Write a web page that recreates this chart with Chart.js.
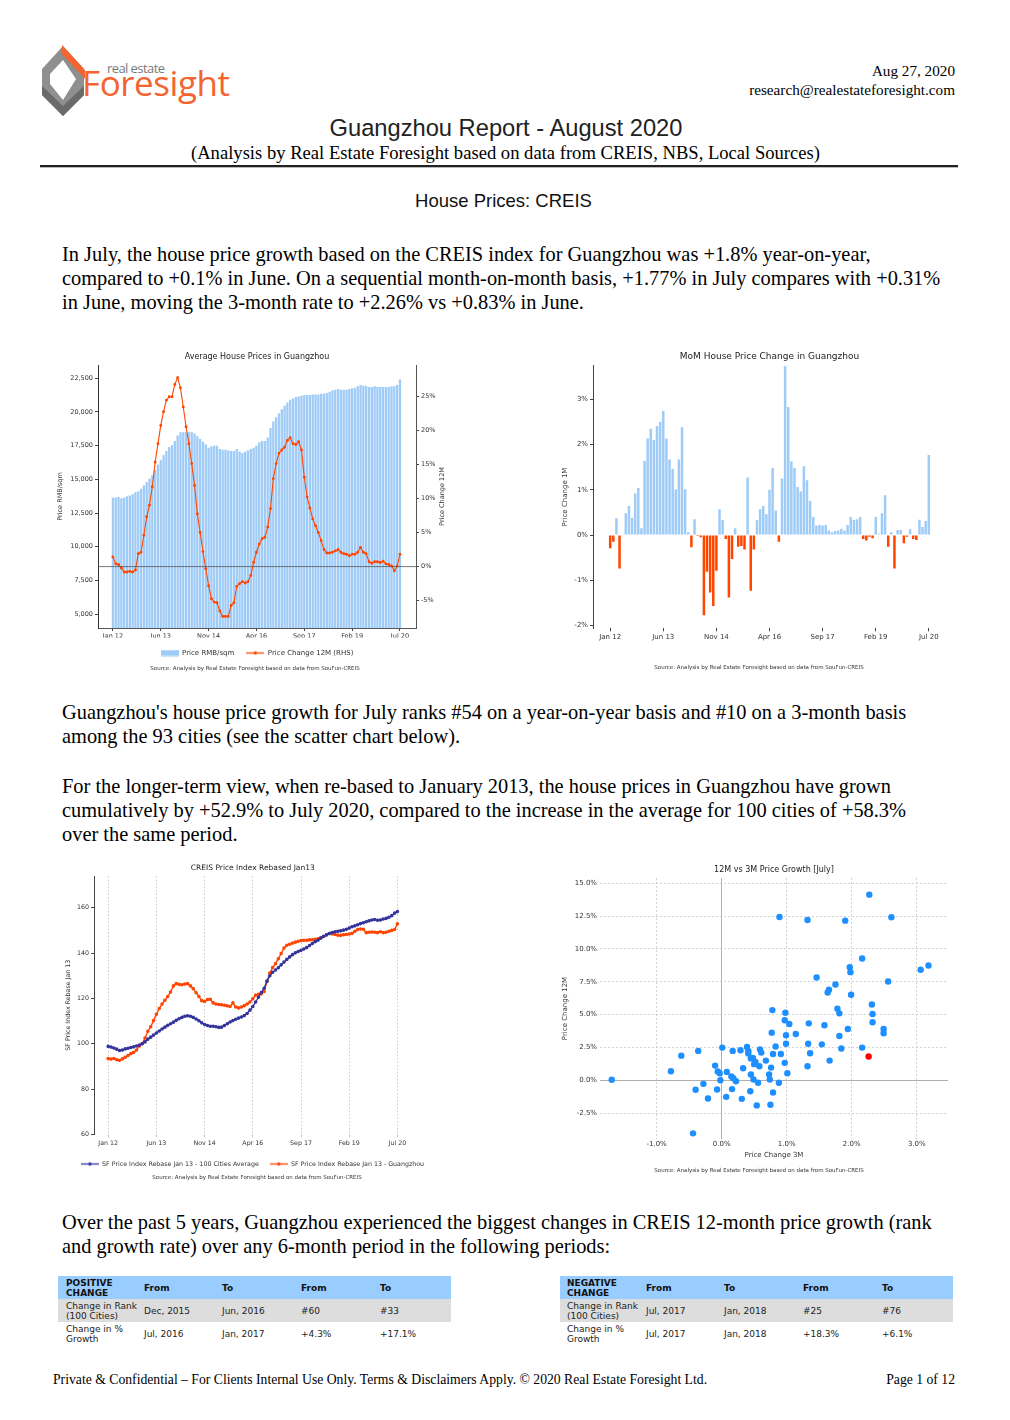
<!DOCTYPE html>
<html>
<head>
<meta charset="utf-8">
<title>Guangzhou Report - August 2020</title>
<script src="https://cdn.jsdelivr.net/npm/chart.js@4.4.1/dist/chart.umd.min.js"></script>
<style>
  body { margin: 0; background: #fff; }
  #page { position: relative; width: 1010px; height: 1420px; overflow: hidden; font-family: 'Liberation Serif', 'Times New Roman', serif; color: #000; }
  .abs { position: absolute; white-space: nowrap; }
  .para { left: 62px; font-size: 20.4px; line-height: 24px; }
  .box { position: absolute; }
  table.rank { position: absolute; border-collapse: collapse; font-family: 'DejaVu Sans', sans-serif; font-size: 9px; line-height: 10px; color: #222; table-layout: fixed; }
  table.rank td { padding: 0 0 0 8px; vertical-align: middle; white-space: nowrap; overflow: visible; }
  table.rank tr.head td { background: #99ccff; font-weight: bold; height: 23px; color: #111; }
  table.rank tr.r1 td { background: #dddddd; height: 23px; }
  table.rank tr.r2 td { background: #fff; height: 24px; }
</style>
</head>
<body>
<div id="page">

  <svg class="box" style="left:0;top:0" width="260" height="125" viewBox="0 0 260 125">
    <polygon points="63,46 84,69 84,95 63,116 42,95 42,69" fill="#8f8f8f"/>
    <polygon points="42,86 63,106 84,86 84,95 63,116 42,95" fill="#6a6a6a"/>
    <polygon points="63,60 76,79 63,100 50,84 50,74" fill="#fff"/>
    <polygon points="62,45 85,70 85,79 62,54" fill="#f26531"/>
    <text x="107" y="73" font-family="Open Sans, DejaVu Sans, sans-serif" font-size="13" fill="#7a7a7a" textLength="58">real estate</text>
    <text x="82" y="96" font-family="Open Sans, DejaVu Sans, sans-serif" font-size="35" fill="#f26531" textLength="148">Foresight</text>
  </svg>

  <div class="abs" style="right:55px;top:61px;font-size:15.2px;text-align:right;line-height:19px">Aug 27, 2020<br>research@realestateforesight.com</div>

  <div class="abs" style="left:0;width:1012px;top:115px;text-align:center;font-family:'Liberation Sans',Arial,sans-serif;font-size:23.7px;color:#222">Guangzhou Report - August 2020</div>
  <div class="abs" style="left:0;width:1011px;top:142px;text-align:center;font-size:18.6px">(Analysis by Real Estate Foresight based on data from CREIS, NBS, Local Sources)</div>
  <div class="box" style="left:40px;top:165px;width:918px;height:1.5px;background:#222"></div>
  <div class="box" style="left:40px;top:166.5px;width:918px;height:1px;background:#bbb"></div>

  <div class="abs" style="left:0;width:1007px;top:190px;text-align:center;font-family:'Liberation Sans',Arial,sans-serif;font-size:18.5px;color:#111">House Prices: CREIS</div>

  <div class="abs para" style="top:242px">In July, the house price growth based on the CREIS index for Guangzhou was +1.8% year-on-year,<br>compared to +0.1% in June. On a sequential month-on-month basis, +1.77% in July compares with +0.31%<br>in June, moving the 3-month rate to +2.26% vs +0.83% in June.</div>

  <div class="box" style="left:55px;top:348px"><canvas id="priceChart" width="395" height="328"></canvas></div>
  <div class="box" style="left:555px;top:348px"><canvas id="momChart" width="400" height="328"></canvas></div>

  <div class="abs para" style="top:700px">Guangzhou's house price growth for July ranks #54 on a year-on-year basis and #10 on a 3-month basis<br>among the 93 cities (see the scatter chart below).</div>

  <div class="abs para" style="top:774px">For the longer-term view, when re-based to January 2013, the house prices in Guangzhou have grown<br>cumulatively by +52.9% to July 2020, compared to the increase in the average for 100 cities of +58.3%<br>over the same period.</div>

  <div class="box" style="left:45px;top:860px"><canvas id="indexChart" width="415" height="326"></canvas></div>
  <div class="box" style="left:555px;top:860px"><canvas id="scatterChart" width="400" height="322"></canvas></div>

  <div class="abs para" style="top:1210px">Over the past 5 years, Guangzhou experienced the biggest changes in CREIS 12-month price growth (rank<br>and growth rate) over any 6-month period in the following periods:</div>

  <table class="rank" style="left:58px;top:1276px;width:393px">
    <colgroup><col style="width:78px"><col style="width:78px"><col style="width:79px"><col style="width:79px"><col style="width:79px"></colgroup>
    <tr class="head"><td>POSITIVE<br>CHANGE</td><td>From</td><td>To</td><td>From</td><td>To</td></tr>
    <tr class="r1"><td>Change in Rank<br>(100 Cities)</td><td>Dec, 2015</td><td>Jun, 2016</td><td>#60</td><td>#33</td></tr>
    <tr class="r2"><td>Change in %<br>Growth</td><td>Jul, 2016</td><td>Jan, 2017</td><td>+4.3%</td><td>+17.1%</td></tr>
  </table>

  <table class="rank" style="left:560px;top:1276px;width:393px">
    <colgroup><col style="width:79px"><col style="width:78px"><col style="width:79px"><col style="width:79px"><col style="width:78px"></colgroup>
    <tr class="head"><td style="padding-left:7px">NEGATIVE<br>CHANGE</td><td style="padding-left:7px">From</td><td style="padding-left:7px">To</td><td style="padding-left:7px">From</td><td style="padding-left:7px">To</td></tr>
    <tr class="r1"><td style="padding-left:7px">Change in Rank<br>(100 Cities)</td><td style="padding-left:7px">Jul, 2017</td><td style="padding-left:7px">Jan, 2018</td><td style="padding-left:7px">#25</td><td style="padding-left:7px">#76</td></tr>
    <tr class="r2"><td style="padding-left:7px">Change in %<br>Growth</td><td style="padding-left:7px">Jul, 2017</td><td style="padding-left:7px">Jan, 2018</td><td style="padding-left:7px">+18.3%</td><td style="padding-left:7px">+6.1%</td></tr>
  </table>

  <div class="abs" style="left:53px;top:1372px;font-size:13.7px">Private &amp; Confidential – For Clients Internal Use Only. Terms &amp; Disclaimers Apply. © 2020 Real Estate Foresight Ltd.</div>
  <div class="abs" style="right:55px;top:1372px;font-size:13.7px">Page 1 of 12</div>
</div>

<script>
// month categories Jan 12 .. Jul 20
var monthNames = ['Jan','Feb','Mar','Apr','May','Jun','Jul','Aug','Sep','Oct','Nov','Dec'];
var months = [];
for (var i = 0; i < 103; i++) months.push(monthNames[i % 12] + ' ' + (12 + Math.floor(i / 12)));
var tickMonths = ['Jan 12', 'Jun 13', 'Nov 14', 'Apr 16', 'Sep 17', 'Feb 19', 'Jul 20'];

// Average house price RMB/sqm
var avgPrice = [13650,13650,13700,13600,13650,13750,13800,13900,14050,14100,
  14300,14550,14800,15050,15300,15700,16100,16450,16800,17100,
  17400,17550,17850,18250,18500,18500,18500,18500,18500,18400,
  18200,18000,17800,17600,17350,17450,17500,17500,17250,17200,
  17200,17150,17100,17100,17250,17050,16950,17050,17150,17250,
  17350,17500,17750,17850,17850,18100,18800,19300,19600,19900,
  20200,20450,20700,20900,21000,21100,21150,21200,21250,21250,
  21250,21300,21300,21300,21350,21350,21400,21500,21600,21650,
  21700,21650,21650,21650,21700,21750,21800,21900,22000,21950,
  21950,21850,21850,21900,21850,21850,21850,21850,21850,21900,
  21900,22000,22400];

// 12-month price change %
var change12M = [1.4,0.4,0.3,-0.2,-0.8,-0.8,-0.7,-0.8,-0.5,1.9,
  2.1,4.6,7.3,9.0,11.7,15.3,18.0,20.7,22.7,24.4,
  24.9,24.9,26.7,27.7,26.2,23.4,20.5,18.0,15.1,11.9,
  7.7,5.0,2.2,-0.3,-2.8,-4.7,-5.2,-5.3,-6.5,-7.3,
  -7.3,-7.3,-5.7,-5.3,-2.9,-2.5,-2.2,-2.4,-2.2,-1.3,
  0.6,2.1,3.3,4.1,4.3,5.8,8.5,12.9,15.1,16.6,
  17.1,17.5,18.5,18.9,18.0,17.9,18.3,17.1,13.1,10.2,
  8.6,7.0,6.0,5.0,3.8,2.5,2.0,2.0,2.1,2.3,
  2.5,2.1,1.9,1.8,1.6,1.8,1.8,2.1,2.8,2.1,
  1.9,0.7,0.5,0.7,0.7,0.6,0.8,0.4,0.3,0.1,
  -0.6,0.1,1.8];

// month-on-month price change %
var change1M = [-0.29,-0.15,0.37,-0.74,0.02,0.48,0.64,0.38,0.92,1.04,
  0.15,1.64,2.13,2.35,2.10,2.41,2.50,2.74,2.13,1.67,
  1.46,1.01,1.67,2.38,1.01,0.06,-0.27,0.35,-0.02,-0.05,
  -1.77,-0.81,-1.27,-1.57,-0.79,0.57,0.33,-0.09,-1.38,-0.53,
  0.15,-0.26,-0.24,-0.32,1.27,-1.23,-0.32,0.33,0.57,0.64,
  0.46,1.00,1.48,0.54,-0.15,1.25,3.73,2.83,1.63,1.48,
  1.06,0.96,1.52,1.21,0.75,0.40,0.21,0.22,0.21,0.22,
  0.10,0.06,0.09,0.10,0.14,0.10,0.22,0.40,0.33,0.35,
  0.40,-0.09,-0.12,-0.04,-0.07,0.40,0.03,0.48,0.88,-0.26,
  0.06,-0.74,0.11,0.11,-0.18,-0.04,0.13,-0.09,-0.11,0.34,
  0.18,0.31,1.77];

// price index rebased Jan 13 = 100
var index100Cities = [98.8,98.5,98.1,97.6,97.0,97.2,97.7,98.0,98.3,98.6,
  99.0,99.4,100.0,100.8,102.0,102.9,103.8,104.7,105.6,106.5,
  107.3,108.1,108.8,109.5,110.3,111.0,111.6,112.1,112.3,112.1,
  111.6,110.9,110.1,109.2,108.5,108.0,107.7,107.7,107.5,107.2,
  107.3,108.0,108.8,109.6,110.2,110.8,111.3,111.8,112.4,113.3,
  114.8,116.4,118.4,120.5,122.6,124.5,127.6,130.0,131.5,132.5,
  133.5,134.8,136.0,137.2,138.3,139.3,140.1,140.7,141.2,141.8,
  142.4,143.3,144.2,145.0,145.7,146.6,147.4,148.0,148.6,149.1,
  149.4,149.6,149.8,150.1,150.5,151.0,151.6,152.0,152.5,153.0,
  153.4,153.8,154.2,154.6,154.8,154.5,154.6,155.0,155.3,155.8,
  156.5,157.6,158.3];
var indexGuangzhou = [93.4,93.2,93.5,92.9,92.7,93.3,94.0,94.8,95.6,96.2,
  97.2,99.0,100.0,102.5,105.5,107.5,110.2,113.0,115.5,117.5,
  119.2,120.8,122.8,125.5,126.5,126.2,126.0,126.3,126.5,125.5,
  124.3,122.5,120.8,119.0,118.6,119.5,119.6,118.0,117.5,117.3,
  117.2,117.0,116.7,116.4,118.0,116.2,115.8,116.2,116.8,117.5,
  118.4,119.8,121.5,121.8,122.0,123.0,127.5,131.2,133.6,135.3,
  137.5,139.8,142.2,143.4,143.9,144.4,144.8,145.2,145.5,145.6,
  145.6,145.8,145.9,146.1,146.3,146.8,147.3,148.1,148.6,148.4,
  148.2,147.9,147.8,148.1,148.2,148.4,148.7,149.6,150.4,150.6,
  150.5,149.0,149.2,149.3,149.2,149.0,149.4,149.0,149.2,149.6,
  150.0,150.4,152.9];

// scatter: other cities, 3M vs 12M change %
var city3M = [-1.69,-0.78,-0.62,-0.36,-0.40,-0.28,-0.21,-0.44,-0.10,-0.07,
  -0.06,-0.03,-0.02,0.01,0.07,0.08,0.15,0.16,0.17,0.18,
  0.22,0.29,0.31,0.33,0.39,0.41,0.41,0.45,0.45,0.44,
  0.48,0.50,0.49,0.52,0.54,0.56,0.58,0.59,0.61,0.68,
  0.73,0.74,0.76,0.75,0.77,0.78,0.79,0.79,0.83,0.88,
  0.89,0.91,0.97,0.97,0.98,0.99,0.99,1.01,1.04,1.14,
  1.32,1.32,1.33,1.34,1.36,1.46,1.54,1.58,1.63,1.65,
  1.66,1.75,1.78,1.81,1.81,1.84,1.90,1.94,1.97,1.98,
  1.99,2.16,2.16,2.27,2.31,2.32,2.32,2.49,2.49,2.56,
  2.61,3.06,3.18];
var city12M = [0.03,0.68,1.87,2.23,-0.73,-0.28,-1.39,-4.05,1.11,-0.71,
  0.66,0.53,0.00,2.48,-1.27,0.63,0.28,-0.68,2.23,0.15,
  -0.08,2.28,-1.42,0.91,2.53,2.23,2.03,1.65,0.43,-0.84,
  1.70,1.22,0.05,1.39,-1.92,-0.20,1.06,2.35,2.10,1.49,
  0.43,0.05,0.96,-1.87,3.62,5.34,-0.94,2.00,2.56,-0.20,
  12.43,2.00,1.32,4.56,5.14,2.78,3.42,0.53,4.28,3.52,
  1.06,12.20,2.78,4.33,2.05,7.82,2.73,4.18,6.68,6.89,
  1.49,7.29,5.44,5.09,3.37,2.41,12.15,3.90,8.61,8.23,
  6.51,9.27,2.48,14.13,5.77,5.04,4.41,3.90,3.57,7.52,
  12.41,8.41,8.73];
var gz3M = [2.26];
var gz12M = [1.8];

// tick labels
var priceTicks = [5000, 7500, 10000, 12500, 15000, 17500, 20000, 22500];
var change12MTicks = [-5, 0, 5, 10, 15, 20, 25];
var change1MTicks = [-2, -1, 0, 1, 2, 3];
var indexTicks = [60, 80, 100, 120, 140, 160];
var scatterXTicks = [-1, 0, 1, 2, 3];
var scatterYTicks = [-2.5, 0, 2.5, 5, 7.5, 10, 12.5, 15];

var sourceText = 'Source: Analysis by Real Estate Foresight based on data from SouFun-CREIS';

Chart.defaults.font.family = "'DejaVu Sans', sans-serif";
Chart.defaults.color = '#333';
Chart.defaults.animation = false;
Chart.defaults.events = [];
Chart.defaults.plugins.tooltip.enabled = false;

var blue = '#9fcbf7';
var orange = '#ff4500';
var navy = '#34349c';
var dot = '#1e8fff';

function toPoints(arr) {
    return arr.map(function(v, i) { return { x: i, y: v }; });
}
function monthTicks(scale) {
    scale.ticks = tickMonths.map(function(m) { return { value: months.indexOf(m) }; });
}
function fixedTicks(values) {
    return function(scale) { scale.ticks = values.map(function(v) { return { value: v }; }); };
}
function legendIcon(color, isLine) {
    var c = document.createElement('canvas');
    c.width = 18; c.height = 7;
    var g = c.getContext('2d');
    if (isLine) {
        g.strokeStyle = color; g.lineWidth = 1.3;
        g.beginPath(); g.moveTo(0, 3.5); g.lineTo(18, 3.5); g.stroke();
        g.fillStyle = color;
        g.beginPath(); g.arc(9, 3.5, 1.7, 0, Math.PI * 2); g.fill();
    } else {
        g.fillStyle = color; g.fillRect(0, 0.5, 18, 6);
    }
    return c;
}
function legendWithIcons(icons) {
    return function(chart) {
        var items = Chart.defaults.plugins.legend.labels.generateLabels(chart);
        items.forEach(function(it) { it.pointStyle = icons[it.datasetIndex]; });
        return items.sort(function(a, b) { return a.datasetIndex - b.datasetIndex; });
    };
}

// small note under each chart
var sourceNote = {
    id: 'sourceNote',
    afterDraw: function(chart, args, opts) {
        var ctx = chart.ctx;
        ctx.save();
        ctx.font = "5.5px 'DejaVu Sans', sans-serif";
        ctx.fillStyle = '#333';
        ctx.textAlign = 'center';
        ctx.textBaseline = 'middle';
        ctx.fillText(sourceText, opts.x, opts.y);
        ctx.restore();
    }
};

// horizontal 0% line and rotated right-axis title
var priceExtras = {
    id: 'priceExtras',
    afterDatasetsDraw: function(chart) {
        var ctx = chart.ctx, area = chart.chartArea;
        var y0 = chart.scales.y1.getPixelForValue(0);
        ctx.save();
        ctx.strokeStyle = '#555';
        ctx.lineWidth = 0.8;
        ctx.beginPath(); ctx.moveTo(area.left, y0); ctx.lineTo(area.right, y0); ctx.stroke();
        ctx.translate(area.right + 26, (area.top + area.bottom) / 2);
        ctx.rotate(-Math.PI / 2);
        ctx.font = "6.5px 'DejaVu Sans', sans-serif";
        ctx.fillStyle = '#333';
        ctx.textAlign = 'center';
        ctx.textBaseline = 'middle';
        ctx.fillText('Price Change 12M', 0, 0);
        ctx.restore();
    }
};

// ---- Average house prices (bars) + 12M change (line, RHS) ----
new Chart(document.getElementById('priceChart'), {
    data: {
        datasets: [
            {
                type: 'bar',
                label: 'Price RMB/sqm',
                data: toPoints(avgPrice),
                yAxisID: 'y',
                backgroundColor: blue,
                barPercentage: 0.82,
                categoryPercentage: 1,
                order: 1
            },
            {
                type: 'line',
                label: 'Price Change 12M (RHS)',
                data: toPoints(change12M),
                yAxisID: 'y1',
                borderColor: orange,
                backgroundColor: orange,
                borderWidth: 1.1,
                pointRadius: 0.9,
                tension: 0,
                order: 0
            }
        ]
    },
    options: {
        responsive: false,
        layout: { padding: { bottom: 9.5 } },
        plugins: {
            title: { display: true, text: 'Average House Prices in Guangzhou', fullSize: false, color: '#222', font: { size: 8, weight: 'normal' }, padding: { top: 4, bottom: 3.4 } },
            legend: {
                position: 'bottom', fullSize: false,
                labels: { usePointStyle: true, pointStyleWidth: 18, boxHeight: 7, padding: 12, color: '#333', font: { size: 7 }, generateLabels: legendWithIcons([legendIcon(blue, false), legendIcon(orange, true)]) }
            },
            sourceNote: { x: 200, y: 321 }
        },
        scales: {
            x: {
                type: 'linear', min: -5.3, max: 107.7, offset: false,
                afterBuildTicks: monthTicks,
                afterFit: function(s) { s.height = 9.5; },
                ticks: { callback: function(v) { return months[v]; }, font: { size: 6.5 }, padding: 1.5, maxRotation: 0, autoSkip: false },
                grid: { drawOnChartArea: false, tickLength: 3, color: '#444', offset: false },
                border: { color: '#555' }
            },
            y: {
                position: 'left', min: 3980, max: 23480,
                afterBuildTicks: fixedTicks(priceTicks),
                afterFit: function(s) { s.width = 43; },
                ticks: { callback: function(v) { return v.toLocaleString('en-US'); }, font: { size: 6.5 }, padding: 2 },
                grid: { drawOnChartArea: false, tickLength: 3, color: '#444' },
                border: { color: '#333' },
                title: { display: true, text: 'Price RMB/sqm', font: { size: 6.5 }, padding: { top: 1, bottom: 0 } }
            },
            y1: {
                position: 'right', min: -9.0, max: 29.55,
                afterBuildTicks: fixedTicks(change12MTicks),
                afterFit: function(s) { s.width = 34; },
                ticks: { callback: function(v) { return v + '%'; }, font: { size: 6.5 }, padding: 2 },
                grid: { drawOnChartArea: false, tickLength: 3, color: '#444' },
                border: { color: '#555' }
            }
        }
    },
    plugins: [priceExtras, sourceNote]
});

// ---- MoM change bars ----
new Chart(document.getElementById('momChart'), {
    type: 'bar',
    data: {
        datasets: [{
            label: 'Price Change 1M',
            data: toPoints(change1M),
            backgroundColor: function(ctx) { return ctx.parsed && ctx.parsed.y < 0 ? orange : blue; },
            barPercentage: 0.8,
            categoryPercentage: 1
        }]
    },
    options: {
        responsive: false,
        layout: { padding: { right: 9, bottom: 33.7 } },
        plugins: {
            title: { display: true, text: 'MoM House Price Change in Guangzhou', fullSize: false, color: '#222', font: { size: 9, weight: 'normal' }, padding: { top: 3.5, bottom: 3.4 } },
            legend: { display: false },
            sourceNote: { x: 204, y: 320 }
        },
        scales: {
            x: {
                type: 'linear', min: -5.5, max: 107.5, offset: false,
                afterBuildTicks: monthTicks,
                afterFit: function(s) { s.height = 14; },
                ticks: { callback: function(v) { return months[v]; }, font: { size: 7 }, padding: 1.5, maxRotation: 0, autoSkip: false },
                grid: { drawOnChartArea: false, tickLength: 3, color: '#444', offset: false },
                border: { display: false }
            },
            y: {
                min: -2.06, max: 3.74,
                afterBuildTicks: fixedTicks(change1MTicks),
                afterFit: function(s) { s.width = 38; },
                ticks: { callback: function(v) { return v + '%'; }, font: { size: 7 }, padding: 2 },
                grid: { drawOnChartArea: false, tickLength: 3, color: '#444' },
                border: { color: '#444' },
                title: { display: true, text: 'Price Change 1M', font: { size: 7 }, padding: { top: 6, bottom: 0 } }
            }
        }
    },
    plugins: [sourceNote]
});

// ---- Rebased price index lines ----
new Chart(document.getElementById('indexChart'), {
    type: 'line',
    data: {
        datasets: [
            {
                label: 'SF Price Index Rebase Jan 13 - 100 Cities Average',
                data: toPoints(index100Cities),
                borderColor: navy, backgroundColor: navy,
                borderWidth: 1.4, pointRadius: 1.1, tension: 0
            },
            {
                label: 'SF Price Index Rebase Jan 13 - Guangzhou',
                data: toPoints(indexGuangzhou),
                borderColor: orange, backgroundColor: orange,
                borderWidth: 1.4, pointRadius: 1.1, tension: 0
            }
        ]
    },
    options: {
        responsive: false,
        layout: { padding: { bottom: 8.85 } },
        plugins: {
            title: { display: true, text: 'CREIS Price Index Rebased Jan13', fullSize: false, color: '#222', font: { size: 7.5, weight: 'normal' }, padding: { top: 4, bottom: 3 } },
            legend: {
                position: 'bottom',
                labels: { usePointStyle: true, pointStyleWidth: 18, boxHeight: 7, padding: 11, color: '#333', font: { size: 6.3 }, generateLabels: legendWithIcons([legendIcon(navy, true), legendIcon(orange, true)]) }
            },
            sourceNote: { x: 212, y: 318 }
        },
        scales: {
            x: {
                type: 'linear', min: -5, max: 107,
                afterBuildTicks: monthTicks,
                afterFit: function(s) { s.height = 15.5; },
                ticks: { callback: function(v) { return months[v]; }, font: { size: 6.3 }, padding: 2, maxRotation: 0, autoSkip: false },
                grid: { color: '#bdbdbd', lineWidth: 0.8, tickLength: 3 },
                border: { display: false, dash: [1.5, 2] }
            },
            y: {
                min: 60, max: 174,
                afterBuildTicks: fixedTicks(indexTicks),
                afterFit: function(s) { s.width = 49; },
                ticks: { font: { size: 6.3 }, padding: 2 },
                grid: { drawOnChartArea: false, tickLength: 3, color: '#444' },
                border: { color: '#444' },
                title: { display: true, text: 'SF Price Index Rebase Jan 13', font: { size: 6.3 }, padding: { top: 20, bottom: 0 } }
            },
            pad: {
                type: 'linear', position: 'right',
                afterFit: function(s) { s.width = 48.4; },
                ticks: { display: false },
                grid: { display: false },
                border: { display: false }
            }
        }
    },
    plugins: [sourceNote]
});

// ---- 12M vs 3M scatter ----
function zeroSolid(ctx) { return ctx.tick && ctx.tick.value === 0 ? [] : [2, 2]; }
function zeroColor(ctx) { return ctx.tick && ctx.tick.value === 0 ? '#9a9a9a' : '#c8c8c8'; }

new Chart(document.getElementById('scatterChart'), {
    type: 'scatter',
    data: {
        datasets: [
            {
                label: 'Guangzhou',
                data: gz3M.map(function(v, i) { return { x: v, y: gz12M[i] }; }),
                backgroundColor: '#ff0000', borderWidth: 0, pointRadius: 3.2, order: 0
            },
            {
                label: 'Cities',
                data: city3M.map(function(v, i) { return { x: v, y: city12M[i] }; }),
                backgroundColor: dot, borderWidth: 0, pointRadius: 3.2, order: 1
            }
        ]
    },
    options: {
        responsive: false,
        layout: { padding: { right: 7, bottom: 18.2 } },
        plugins: {
            title: { display: true, text: '12M vs 3M Price Growth [July]', fullSize: false, color: '#222', font: { size: 8, weight: 'normal' }, padding: { top: 5, bottom: 3.4 } },
            legend: { display: false },
            sourceNote: { x: 204, y: 311 }
        },
        scales: {
            x: {
                type: 'linear', min: -1.87, max: 3.48,
                afterBuildTicks: fixedTicks(scatterXTicks),
                ticks: { callback: function(v) { return v.toFixed(1) + '%'; }, font: { size: 7 }, padding: 1 },
                grid: { color: zeroColor, lineWidth: 0.8, drawTicks: false },
                border: { display: false, dash: zeroSolid },
                title: { display: true, text: 'Price Change 3M', font: { size: 7 }, padding: { top: 2, bottom: 4 } }
            },
            y: {
                min: -4.48, max: 15.4,
                afterBuildTicks: fixedTicks(scatterYTicks),
                afterFit: function(s) { s.width = 45; },
                ticks: { callback: function(v) { return v.toFixed(1) + '%'; }, font: { size: 7 }, padding: 3 },
                grid: { color: zeroColor, lineWidth: 0.8, drawTicks: false },
                border: { display: false, dash: zeroSolid },
                title: { display: true, text: 'Price Change 12M', font: { size: 7 }, padding: { top: 6, bottom: 0 } }
            }
        }
    },
    plugins: [sourceNote]
});
</script>
</body>
</html>
